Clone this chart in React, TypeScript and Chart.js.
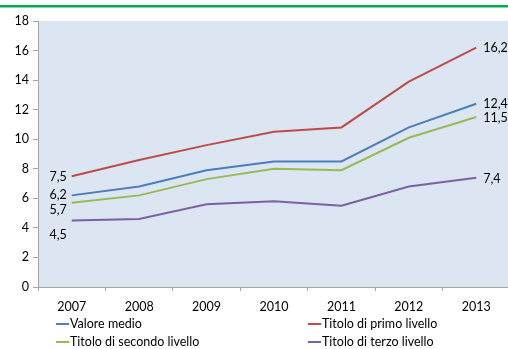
import React, { useEffect, useRef } from "react";
import { Chart, registerables } from "chart.js";

Chart.register(...registerables);

const years = ["2007", "2008", "2009", "2010", "2011", "2012", "2013"];
const valoreMedio = [6.2, 6.8, 7.9, 8.5, 8.5, 10.8, 12.4];
const primoLivello = [7.5, 8.6, 9.6, 10.5, 10.8, 13.9, 16.2];
const secondoLivello = [5.7, 6.2, 7.3, 8.0, 7.9, 10.1, 11.5];
const terzoLivello = [4.5, 4.6, 5.6, 5.8, 5.5, 6.8, 7.4];
const seriesNames = [
  "Valore medio",
  "Titolo di primo livello",
  "Titolo di secondo livello",
  "Titolo di terzo livello",
];
const yMin = 0;
const yMax = 18;
const yStep = 2;

const COLORS = ["#4A7EBB", "#BE4B48", "#98B954", "#7D60A0"];
const FONT = "Lato, 'Open Sans', sans-serif";
const FONT_SIZE = 12.5;

// style-only offsets for end labels (dy in px) to avoid overlap
const FIRST_LABEL_DY = [0, 1, 7, 14];
const LAST_LABEL_DY = [0, 0, 1, 1];

const fmt = (v: number) => v.toFixed(1).replace(".", ",");

const decorPlugin = {
  id: "decor",
  beforeDraw(chart: any) {
    const { ctx, chartArea } = chart;
    ctx.save();
    ctx.fillStyle = "#DCE6F2";
    ctx.fillRect(chartArea.left, chartArea.top, chartArea.right - chartArea.left, chartArea.bottom - chartArea.top);
    ctx.fillStyle = "#00B050";
    ctx.fillRect(0, 5, chart.width, 2.5);
    ctx.restore();
  },
  afterDatasetsDraw(chart: any) {
    const { ctx } = chart;
    ctx.save();
    ctx.font = `${FONT_SIZE}px ${FONT}`;
    ctx.fillStyle = "#000";
    ctx.textBaseline = "middle";
    chart.data.datasets.forEach((ds: any, i: number) => {
      const meta = chart.getDatasetMeta(i);
      const first = meta.data[0];
      const last = meta.data[meta.data.length - 1];
      ctx.textAlign = "right";
      ctx.fillText(fmt(ds.data[0]), first.x - 5, first.y + FIRST_LABEL_DY[i]);
      ctx.textAlign = "left";
      ctx.fillText(fmt(ds.data[ds.data.length - 1]), last.x + 7, last.y + LAST_LABEL_DY[i]);
    });
    ctx.restore();
  },
  afterDraw(chart: any) {
    const { ctx } = chart;
    const cols = [56, 308];
    const rows = [324, 342];
    ctx.save();
    ctx.font = `${FONT_SIZE}px ${FONT}`;
    ctx.textBaseline = "middle";
    ctx.textAlign = "left";
    chart.data.datasets.forEach((ds: any, i: number) => {
      const x = cols[i % 2];
      const y = rows[Math.floor(i / 2)];
      ctx.strokeStyle = ds.borderColor;
      ctx.lineWidth = 2;
      ctx.beginPath();
      ctx.moveTo(x, y);
      ctx.lineTo(x + 13, y);
      ctx.stroke();
      ctx.fillStyle = "#000";
      ctx.fillText(ds.label, x + 14, y);
    });
    ctx.restore();
  },
};

export default function App() {
  const ref = useRef<HTMLCanvasElement | null>(null);
  useEffect(() => {
    if (!ref.current) return;
    const seriesData = [valoreMedio, primoLivello, secondoLivello, terzoLivello];
    const chart = new Chart(ref.current, {
      type: "line",
      data: {
        labels: years,
        datasets: seriesData.map((d, i) => ({
          label: seriesNames[i],
          data: d,
          borderColor: COLORS[i],
          backgroundColor: COLORS[i],
          borderWidth: 2,
          pointRadius: 0,
          tension: 0,
          fill: false,
        })),
      },
      options: {
        responsive: false,
        animation: false,
        layout: { padding: { top: 21, right: 2, bottom: 32, left: 0 } },
        plugins: { legend: { display: false }, tooltip: { enabled: false } },
        scales: {
          x: {
            offset: true,
            grid: { display: true, drawOnChartArea: false, offset: true, color: "#A6A6A6", tickLength: 4 },
            border: { color: "#A6A6A6", width: 1 },
            ticks: { color: "#000", font: { family: FONT, size: FONT_SIZE }, padding: 8, maxRotation: 0 },
            afterFit: (s: any) => { s.height = 30; },
          },
          y: {
            min: yMin,
            max: yMax,
            grid: { display: true, drawOnChartArea: false, color: "#A6A6A6", tickLength: 5 },
            border: { color: "#A6A6A6", width: 1 },
            ticks: { stepSize: yStep, color: "#000", font: { family: FONT, size: FONT_SIZE }, padding: 4 },
            afterFit: (s: any) => { s.width = 38; },
          },
        },
      },
      plugins: [decorPlugin],
    });
    return () => chart.destroy();
  }, []);
  return (
    <div style={{ position: "fixed", left: 0, top: 0, width: 508, height: 349, overflow: "hidden", background: "#fff" }}>
      <canvas ref={ref} width={512} height={349} style={{ display: "block" }} />
    </div>
  );
}
